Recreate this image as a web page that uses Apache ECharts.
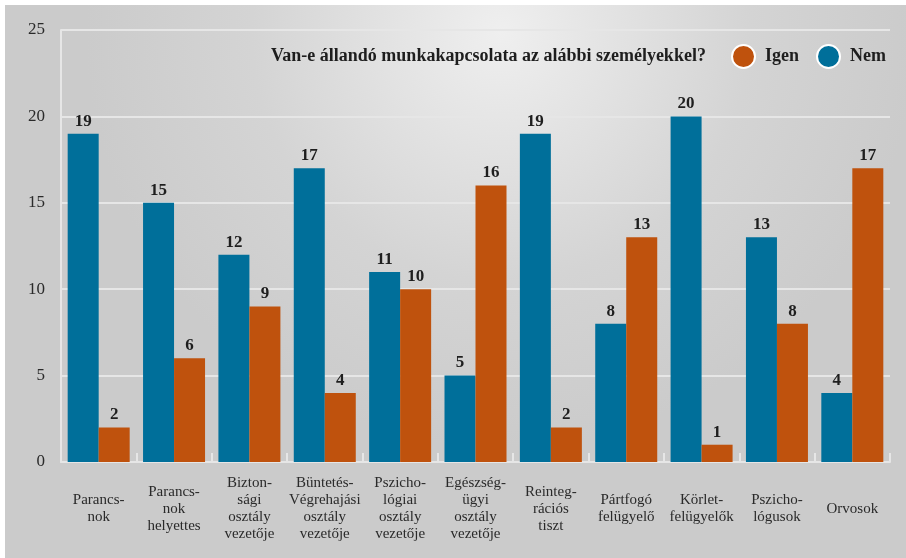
<!DOCTYPE html>
<html>
<head>
<meta charset="utf-8">
<script src="https://cdn.jsdelivr.net/npm/echarts@6/dist/echarts.min.js"></script>
<style>
html,body{margin:0;padding:0;background:#fff;}
#c{position:absolute;left:5px;top:5px;width:901px;height:553px;}
</style>
</head>
<body>
<div id="c"></div>
<script>
const categories = [
  "Parancs-\nnok",
  "Parancs-\nnok\nhelyettes",
  "Bizton-\nsági\nosztály\nvezetője",
  "Büntetés-\nVégrehajási\nosztály\nvezetője",
  "Pszicho-\nlógiai\nosztály\nvezetője",
  "Egészség-\nügyi\nosztály\nvezetője",
  "Reinteg-\nrációs\ntiszt",
  "Pártfogó\nfelügyelő",
  "Körlet-\nfelügyelők",
  "Pszicho-\nlógusok",
  "Orvosok"
];
const nemValues  = [19, 15, 12, 17, 11, 5, 19, 8, 20, 13, 4];
const igenValues = [2, 6, 9, 4, 10, 16, 2, 13, 1, 8, 17];
const titleText = "Van-e állandó munkakapcsolata az alábbi személyekkel?";

const FONT = '"Liberation Serif", "DejaVu Serif", serif';
const chart = echarts.init(document.getElementById('c'));
chart.setOption({
  animation: false,
  backgroundColor: {
    type: 'radial', x: 0.55, y: 0.05, r: 0.75,
    colorStops: [{offset: 0, color: '#efefef'}, {offset: 0.6, color: '#d4d4d4'}, {offset: 1, color: '#cbcbcb'}]
  },
  textStyle: {fontFamily: FONT},
  title: {
    text: titleText, left: 261, top: 37,
    textStyle: {fontFamily: FONT, fontSize: 18, fontWeight: 'bold', color: '#1e1e1e'}
  },
  legend: {
    data: ['Igen', 'Nem'], left: 721, top: 34, itemGap: 17,
    icon: 'circle', itemWidth: 23, itemHeight: 23,
    itemStyle: {borderColor: '#ffffff', borderWidth: 2},
    textStyle: {fontFamily: FONT, fontSize: 18, fontWeight: 'bold', color: '#1e1e1e', padding: [0,0,0,5]}
  },
  grid: {left: 56, right: 16, top: 25, bottom: 96},
  xAxis: {
    type: 'category', data: categories,
    axisLine: {show: true, lineStyle: {color: '#e6e6e6', width: 2}},
    axisTick: {show: true, inside: true, length: 9, lineStyle: {color: '#e6e6e6', width: 2}},
    axisLabel: {interval: 0, margin: 47, verticalAlign: 'middle', fontFamily: FONT, fontSize: 15, lineHeight: 17, color: '#2a2a2a'}
  },
  yAxis: {
    type: 'value', min: 0, max: 25, interval: 5,
    axisLine: {show: true, lineStyle: {color: '#e6e6e6', width: 2}},
    axisTick: {show: false},
    splitLine: {lineStyle: {color: '#e6e6e6', width: 2}},
    axisLabel: {margin: 16, fontFamily: FONT, fontSize: 17, color: '#2a2a2a'}
  },
  series: [
    {
      name: 'Nem', type: 'bar', data: nemValues, barWidth: 31, barGap: '0%',
      itemStyle: {color: '#006f9a'},
      label: {show: true, position: 'top', distance: 4, fontFamily: FONT, fontSize: 17, fontWeight: 'bold', color: '#1e1e1e'}
    },
    {
      name: 'Igen', type: 'bar', data: igenValues, barWidth: 31,
      itemStyle: {color: '#bf520d'},
      label: {show: true, position: 'top', distance: 4, fontFamily: FONT, fontSize: 17, fontWeight: 'bold', color: '#1e1e1e'}
    }
  ]
});
</script>
</body>
</html>
